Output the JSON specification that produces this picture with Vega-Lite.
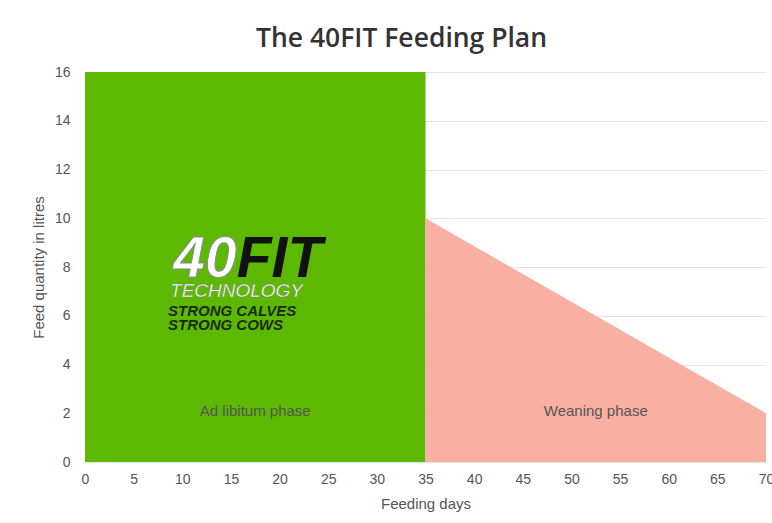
{
  "$schema": "https://vega.github.io/schema/vega-lite/v6.json",
  "width": 681,
  "height": 390,
  "autosize": {"type": "none"},
  "padding": {"left": 85, "top": 72, "right": 6, "bottom": 61},
  "background": "white",
  "title": {
    "text": "The 40FIT Feeding Plan",
    "font": "Open Sans",
    "fontSize": 26.5,
    "fontWeight": 600,
    "color": "#333333",
    "anchor": "middle",
    "dx": -24,
    "baseline": "alphabetic",
    "offset": -8
  },
  "config": {
    "view": {"stroke": null},
    "axis": {
      "labelFont": "Liberation Sans",
      "titleFont": "Liberation Sans",
      "labelFontSize": 14,
      "titleFontSize": 15,
      "labelColor": "#555555",
      "titleColor": "#555555",
      "titleFontWeight": "normal",
      "domain": false,
      "ticks": false
    }
  },
  "datasets": {
    "plan": [
      {"day": 0, "litres": 16, "phase": "Ad libitum phase"},
      {"day": 35, "litres": 16, "phase": "Ad libitum phase"},
      {"day": 35, "litres": 10, "phase": "Weaning phase"},
      {"day": 70, "litres": 2, "phase": "Weaning phase"}
    ],
    "labels": [
      {"day": 17.5, "litres": 2.1, "text": "Ad libitum phase"},
      {"day": 52.5, "litres": 2.1, "text": "Weaning phase"}
    ],
    "logo": [
      {"part": "40", "day": 15.6, "litres": 7.6, "text": "40"},
      {"part": "FIT", "day": 15.6, "litres": 7.6, "text": "FIT"},
      {"part": "TECH", "day": 8.74, "litres": 6.77, "text": "TECHNOLOGY"},
      {"part": "SLOGAN", "day": 8.53, "litres": 5.99, "text": "STRONG CALVES"},
      {"part": "SLOGAN", "day": 8.53, "litres": 5.42, "text": "STRONG COWS"}
    ]
  },
  "encoding": {
    "x": {
      "field": "day",
      "type": "quantitative",
      "scale": {"domain": [0, 70], "nice": false},
      "axis": {"title": "Feeding days", "values": [0,5,10,15,20,25,30,35,40,45,50,55,60,65,70], "grid": false, "labelPadding": 10, "titlePadding": 10, "labelFlush": false}
    },
    "y": {
      "field": "litres",
      "type": "quantitative",
      "scale": {"domain": [0, 16], "nice": false},
      "stack": null,
      "axis": {"title": "Feed quantity in litres", "values": [0,2,4,6,8,10,12,14,16], "grid": true, "gridColor": "#e3e3e3", "labelPadding": 15, "titlePadding": 8}
    }
  },
  "layer": [
    {
      "data": {"name": "plan"},
      "mark": {"type": "area", "opacity": 1, "interpolate": "linear"},
      "encoding": {
        "color": {
          "field": "phase",
          "type": "nominal",
          "scale": {"domain": ["Ad libitum phase", "Weaning phase"], "range": ["#5cb800", "#f9afa2"]},
          "legend": null
        }
      }
    },
    {
      "data": {"name": "labels"},
      "mark": {"type": "text", "font": "Liberation Sans", "fontSize": 15, "color": "#555555", "baseline": "middle", "align": "center"},
      "encoding": {"text": {"field": "text"}}
    },
    {
      "data": {"name": "logo"},
      "transform": [{"filter": "datum.part === '40'"}],
      "mark": {"type": "text", "font": "Liberation Sans", "fontSize": 57, "fontWeight": "bold", "fontStyle": "italic", "color": "#ffffff", "stroke": "#8a8a8a", "strokeWidth": 1, "baseline": "alphabetic", "align": "right"},
      "encoding": {"text": {"field": "text"}}
    },
    {
      "data": {"name": "logo"},
      "transform": [{"filter": "datum.part === 'FIT'"}],
      "mark": {"type": "text", "font": "Liberation Sans", "fontSize": 57, "fontWeight": "bold", "fontStyle": "italic", "color": "#111111", "baseline": "alphabetic", "align": "left"},
      "encoding": {"text": {"field": "text"}}
    },
    {
      "data": {"name": "logo"},
      "transform": [{"filter": "datum.part === 'TECH'"}],
      "mark": {"type": "text", "font": "Liberation Sans", "fontSize": 19, "fontStyle": "italic", "color": "#ffffff", "stroke": "#7a7a7a", "strokeWidth": 0.4, "baseline": "alphabetic", "align": "left"},
      "encoding": {"text": {"field": "text"}}
    },
    {
      "data": {"name": "logo"},
      "transform": [{"filter": "datum.part === 'SLOGAN'"}],
      "mark": {"type": "text", "font": "Liberation Sans", "fontSize": 15, "fontWeight": "bold", "fontStyle": "italic", "color": "#1c2a0c", "baseline": "alphabetic", "align": "left"},
      "encoding": {"text": {"field": "text"}}
    }
  ]
}
